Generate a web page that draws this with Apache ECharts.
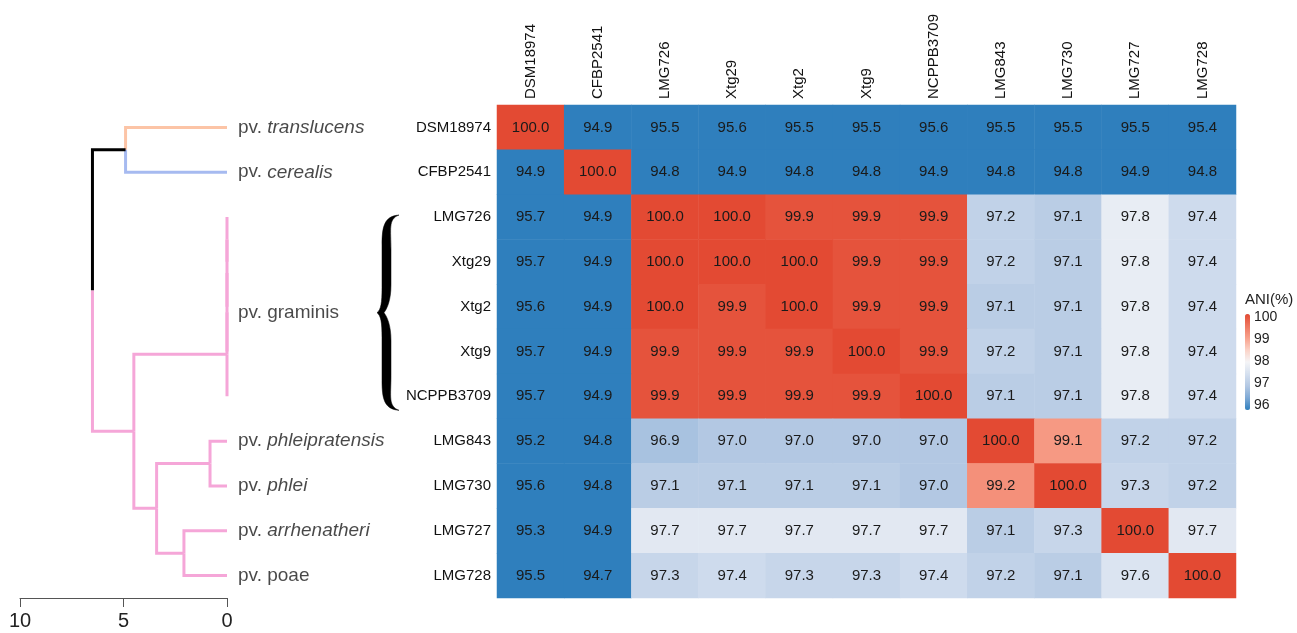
<!DOCTYPE html>
<html>
<head>
<meta charset="utf-8">
<script src="https://cdn.jsdelivr.net/npm/echarts@6/dist/echarts.min.js"></script>
<style>
html,body{margin:0;padding:0;background:#fff;}
#main{width:1297px;height:633px;}
</style>
</head>
<body>
<div id="main"></div>
<script>
// strains (rows and columns of the ANI matrix)
var strains = ['DSM18974', 'CFBP2541', 'LMG726', 'Xtg29', 'Xtg2', 'Xtg9', 'NCPPB3709', 'LMG843', 'LMG730', 'LMG727', 'LMG728'];

// ANI values, one row per strain
var aniDSM18974  = [100.0, 94.9, 95.5, 95.6, 95.5, 95.5, 95.6, 95.5, 95.5, 95.5, 95.4];
var aniCFBP2541  = [94.9, 100.0, 94.8, 94.9, 94.8, 94.8, 94.9, 94.8, 94.8, 94.9, 94.8];
var aniLMG726    = [95.7, 94.9, 100.0, 100.0, 99.9, 99.9, 99.9, 97.2, 97.1, 97.8, 97.4];
var aniXtg29     = [95.7, 94.9, 100.0, 100.0, 100.0, 99.9, 99.9, 97.2, 97.1, 97.8, 97.4];
var aniXtg2      = [95.6, 94.9, 100.0, 99.9, 100.0, 99.9, 99.9, 97.1, 97.1, 97.8, 97.4];
var aniXtg9      = [95.7, 94.9, 99.9, 99.9, 99.9, 100.0, 99.9, 97.2, 97.1, 97.8, 97.4];
var aniNCPPB3709 = [95.7, 94.9, 99.9, 99.9, 99.9, 99.9, 100.0, 97.1, 97.1, 97.8, 97.4];
var aniLMG843    = [95.2, 94.8, 96.9, 97.0, 97.0, 97.0, 97.0, 100.0, 99.1, 97.2, 97.2];
var aniLMG730    = [95.6, 94.8, 97.1, 97.1, 97.1, 97.1, 97.0, 99.2, 100.0, 97.3, 97.2];
var aniLMG727    = [95.3, 94.9, 97.7, 97.7, 97.7, 97.7, 97.7, 97.1, 97.3, 100.0, 97.7];
var aniLMG728    = [95.5, 94.7, 97.3, 97.4, 97.3, 97.3, 97.4, 97.2, 97.1, 97.6, 100.0];
var aniRows = [aniDSM18974, aniCFBP2541, aniLMG726, aniXtg29, aniXtg2, aniXtg9, aniNCPPB3709, aniLMG843, aniLMG730, aniLMG727, aniLMG728];

// pathovar labels next to the tree
var cladeNames  = ['translucens', 'cerealis', 'graminis', 'phleipratensis', 'phlei', 'arrhenatheri', 'poae'];
var cladeRows   = [0, 1, 4.14, 7, 8, 9, 10];
var cladeItalic = [true, true, false, true, true, true, false];

// dendrogram merges: [child a, child b, height]; 'r<i>' = leaf at row i, 'n<i>' = merge i
var merges = [
    ['r2', 'r3', 0],
    ['n0', 'r4', 0],
    ['n1', 'r5', 0],
    ['n2', 'r6', 0],
    ['r7', 'r8', 0.82],
    ['r9', 'r10', 2.08],
    ['n4', 'n5', 3.4],
    ['n3', 'n6', 4.5],
    ['r0', 'r1', 4.9],
    ['n8', 'n7', 6.5]
];
var branchColors = { r0: '#fcc4a6', r1: '#a6baf0', n8: '#000000' };
var defaultBranch = '#f5a6d8';

// graminis brace spans these rows
var braceRows = [[2, 6]];

// colour scale
var aniMin = 96, aniMax = 100;
var scaleColors = ['#2f7fbd', '#7ea9d5', '#b3c8e3', '#d5e0ef', '#f5f5f7', '#fbd3c7', '#f8a18c', '#ee7760', '#e34a33'];

var FONT = 'Liberation Sans, Arial, sans-serif';

// heatmap cells
var cells = [];
aniRows.forEach(function (row, r) {
    row.forEach(function (v, c) {
        cells.push([c, r, v]);
    });
});

// dendrogram segments
var pos = {};
function getPos(id) {
    if (id.charAt(0) === 'r') return { x: 0, y: +id.slice(1) };
    return pos[id];
}
var segments = [];
merges.forEach(function (m, i) {
    var a = getPos(m[0]), b = getPos(m[1]);
    var y = (a.y + b.y) / 2;
    pos['n' + i] = { x: m[2], y: y };
    [m[0], m[1]].forEach(function (id) {
        var p = getPos(id);
        segments.push({
            coords: [[m[2], y], [m[2], p.y], [p.x, p.y]],
            lineStyle: { color: branchColors[id] || defaultBranch }
        });
    });
});

var cladeData = cladeNames.map(function (n, i) {
    return { value: [0, cladeRows[i]], name: n, italic: cladeItalic[i] };
});

var myChart = echarts.init(document.getElementById('main'));

var option = {
    animation: false,
    backgroundColor: '#fff',
    textStyle: { fontFamily: FONT },
    title: {
        text: 'ANI(%)',
        left: 1245,
        top: 292,
        padding: 0,
        textStyle: { fontSize: 15, fontWeight: 'normal', color: '#222', fontFamily: FONT }
    },
    grid: [
        { left: 497, top: 105, width: 739, height: 493 },   // heatmap
        { left: 20, top: 105, width: 207, height: 493 },    // dendrogram
        { left: 1245, top: 317, width: 5, height: 88 }      // legend labels
    ],
    xAxis: [
        {
            gridIndex: 0, type: 'category', data: strains, position: 'top',
            axisLine: { show: false }, axisTick: { show: false }, splitArea: { show: false },
            axisLabel: { rotate: -90, fontSize: 15, color: '#111', margin: 6, fontFamily: FONT }
        },
        {
            gridIndex: 1, type: 'value', min: 0, max: 10, interval: 5, inverse: true,
            position: 'bottom',
            splitLine: { show: false },
            axisLine: { show: true, onZero: false, lineStyle: { color: '#555', width: 1 } },
            axisTick: { show: true, length: 9, lineStyle: { color: '#555' } },
            axisLabel: { fontSize: 20, color: '#222', margin: 13, fontFamily: FONT }
        },
        { gridIndex: 2, type: 'value', show: false }
    ],
    yAxis: [
        {
            gridIndex: 0, type: 'category', data: strains, inverse: true,
            axisLine: { show: false }, axisTick: { show: false },
            axisLabel: { fontSize: 15, color: '#111', margin: 6, fontFamily: FONT }
        },
        { gridIndex: 1, type: 'value', min: -0.5, max: 10.5, inverse: true, show: false },
        {
            gridIndex: 2, type: 'value', min: aniMin, max: aniMax, interval: 1, position: 'right',
            axisLine: { show: false }, axisTick: { show: false }, splitLine: { show: false },
            axisLabel: { fontSize: 14, color: '#222', margin: 4, fontFamily: FONT }
        }
    ],
    visualMap: {
        type: 'continuous',
        min: aniMin,
        max: aniMax,
        seriesIndex: 0,
        calculable: false,
        left: 1245,
        top: 314,
        padding: 0,
        itemWidth: 5,
        itemHeight: 96,
        text: null,
        showLabel: false,
        inRange: { color: scaleColors }
    },
    series: [
        {
            type: 'heatmap',
            xAxisIndex: 0, yAxisIndex: 0,
            data: cells,
            label: {
                show: true, fontSize: 15, color: '#1a1a1a', fontFamily: FONT,
                formatter: function (p) { return p.value[2].toFixed(1); }
            },
            emphasis: { disabled: true }
        },
        {
            type: 'lines',
            coordinateSystem: 'cartesian2d',
            xAxisIndex: 1, yAxisIndex: 1,
            polyline: true,
            lineStyle: { width: 3, opacity: 1 },
            data: segments,
            silent: true
        },
        {
            type: 'scatter',
            xAxisIndex: 1, yAxisIndex: 1,
            symbolSize: 0,
            clip: false,
            data: cladeData,
            label: {
                show: true, position: 'right', distance: 11,
                fontSize: 19, color: '#1a1a1a', fontFamily: FONT,
                formatter: function (p) {
                    return p.data.italic ? '{n|pv. }{i|' + p.name + '}' : 'pv. ' + p.name;
                },
                rich: {
                    n: { fontSize: 19, color: '#1a1a1a', fontFamily: FONT },
                    i: { fontSize: 19, color: '#1a1a1a', fontStyle: 'italic', fontFamily: FONT }
                }
            },
            silent: true
        },
        {
            type: 'custom',
            xAxisIndex: 1, yAxisIndex: 1,
            clip: false,
            silent: true,
            data: braceRows,
            renderItem: function (params, api) {
                var p1 = api.coord([0, api.value(0)]);
                var p2 = api.coord([0, api.value(1)]);
                var yt = p1[1] - 2, yb = p2[1] + 14, ym = (yt + yb) / 2;
                var xt = p1[0] + 150, xb = xt + 10, xr = xt + 22;
                var d = 'M' + xr + ',' + yt +
                    ' C' + (xb - 3) + ',' + (yt + 1) + ' ' + (xb - 5) + ',' + (yt + 12) + ' ' + (xb - 5) + ',' + (yt + 30) +
                    ' L' + (xb - 5) + ',' + (ym - 25) +
                    ' C' + (xb - 5) + ',' + (ym - 10) + ' ' + (xt + 4) + ',' + (ym - 3) + ' ' + xt + ',' + ym +
                    ' C' + (xt + 4) + ',' + (ym + 3) + ' ' + (xb - 5) + ',' + (ym + 10) + ' ' + (xb - 5) + ',' + (ym + 25) +
                    ' L' + (xb - 5) + ',' + (yb - 30) +
                    ' C' + (xb - 5) + ',' + (yb - 12) + ' ' + (xb - 3) + ',' + (yb - 1) + ' ' + xr + ',' + yb +
                    ' C' + (xb + 1) + ',' + (yb - 4) + ' ' + (xb + 4) + ',' + (yb - 14) + ' ' + (xb + 4) + ',' + (yb - 35) +
                    ' L' + (xb + 4) + ',' + (ym + 28) +
                    ' C' + (xb + 4) + ',' + (ym + 12) + ' ' + xb + ',' + (ym + 4) + ' ' + (xt + 7) + ',' + ym +
                    ' C' + xb + ',' + (ym - 4) + ' ' + (xb + 4) + ',' + (ym - 12) + ' ' + (xb + 4) + ',' + (ym - 28) +
                    ' L' + (xb + 4) + ',' + (yt + 35) +
                    ' C' + (xb + 4) + ',' + (yt + 14) + ' ' + (xb + 1) + ',' + (yt + 4) + ' ' + xr + ',' + yt + ' Z';
                return {
                    type: 'path',
                    shape: { pathData: d },
                    style: { fill: '#000', stroke: '#000', lineWidth: 0.5 }
                };
            }
        }
    ]
};

myChart.setOption(option);
</script>
</body>
</html>
